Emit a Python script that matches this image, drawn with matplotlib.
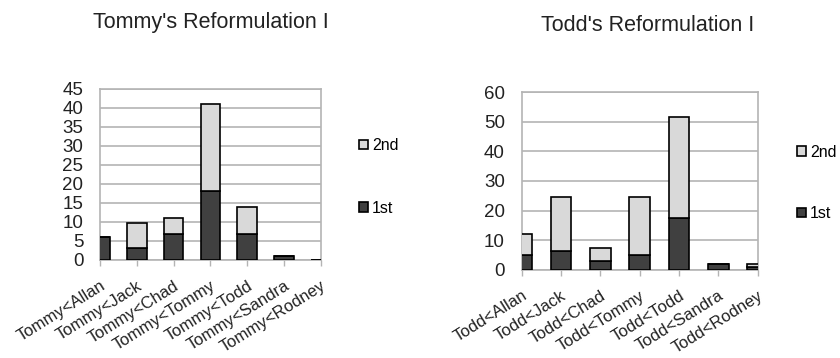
import matplotlib.pyplot as plt
import numpy as np

plt.rcParams['font.family'] = ['Liberation Sans', 'DejaVu Sans']

# data
tommy_labels = ['Tommy<Allan', 'Tommy<Jack', 'Tommy<Chad', 'Tommy<Tommy',
                'Tommy<Todd', 'Tommy<Sandra', 'Tommy<Rodney']
tommy_1st = [6, 3, 6.7, 18, 6.7, 1, 0]
tommy_2nd = [0, 6.7, 4.2, 23, 7.1, 0, 0]

todd_labels = ['Todd<Allan', 'Todd<Jack', 'Todd<Chad', 'Todd<Tommy',
               'Todd<Todd', 'Todd<Sandra', 'Todd<Rodney']
todd_1st = [5.2, 6.3, 3.1, 5.2, 17.4, 2.0, 1.0]
todd_2nd = [7.0, 18.2, 4.2, 19.3, 34.2, 0, 1.1]

dark = '#404040'
light = '#d9d9d9'
grid = '#b4b4b4'

fig = plt.figure(figsize=(8.4, 3.58), dpi=100)


def draw(rect, labels, first, second, ymax, ystep, title, tpos, legpos, spacing):
    ax = fig.add_axes(rect)
    x = np.arange(len(labels))
    b1 = ax.bar(x, first, width=0.53, color=dark, edgecolor='black', linewidth=1.2, zorder=3)
    b2 = ax.bar(x, second, bottom=first, width=0.53, color=light, edgecolor='black',
                linewidth=1.2, zorder=3)
    ax.set_xlim(0, len(labels) - 1)
    ax.set_ylim(0, ymax)
    ax.set_yticks(np.arange(0, ymax + 1, ystep))
    ax.yaxis.grid(True, color=grid, linewidth=1.2, zorder=0)
    ax.set_axisbelow(True)
    for s in ax.spines.values():
        s.set_color(grid)
        s.set_linewidth(1.2)
    ax.tick_params(axis='y', length=0, labelsize=13.5, pad=12, colors='#222222')
    ax.tick_params(axis='x', length=4, color=grid, width=1, labelsize=12,
                   colors=grid, labelcolor='#222222', pad=9)
    ax.set_xticks(x)
    ax.set_xticklabels(labels, rotation=32, ha='right', rotation_mode='anchor')
    fig.text(tpos[0], tpos[1], title, fontsize=15.5, ha='center', va='baseline',
             color='#222222')
    fig.legend([b2, b1], ['2nd', '1st'], loc='center left', bbox_to_anchor=legpos,
               frameon=False, fontsize=11.5, handlelength=0.55, handleheight=0.55,
               handletextpad=0.25, labelspacing=spacing, borderpad=0)
    return ax


draw([0.119, 0.274, 0.263, 0.478], tommy_labels, tommy_1st, tommy_2nd, 45, 5,
     "Tommy's Reformulation I", (211 / 840, 1 - 28 / 358), (351 / 840, 1 - 177 / 358), 3.0)
draw([0.621, 0.246, 0.281, 0.497], todd_labels, todd_1st, todd_2nd, 60, 10,
     "Todd's Reformulation I", (648 / 840, 1 - 31 / 358), (789 / 840, 1 - 183 / 358), 2.9)

plt.savefig('out.png', dpi=100)
